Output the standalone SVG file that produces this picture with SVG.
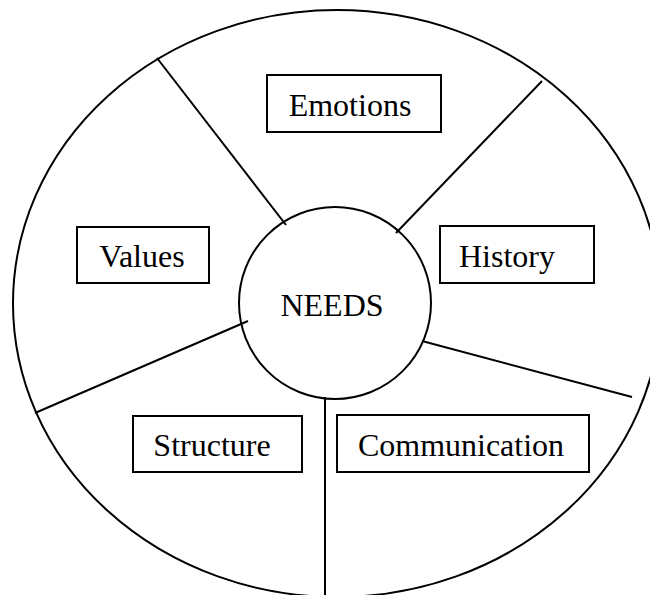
<svg xmlns="http://www.w3.org/2000/svg" width="650" height="595" viewBox="0 0 650 595">
<style>
.shape{fill:none;stroke:#000;stroke-width:2}
.box{fill:#fff;stroke:#000;stroke-width:2}
.con{stroke:#000;stroke-width:2;fill:none}
.lbl{font-family:"Liberation Serif","Times New Roman",serif;font-size:32px;fill:#000;text-anchor:middle}
</style>
<rect x="0" y="0" width="650" height="595" fill="#fff"/>
<g id="outer">
<ellipse class="shape" cx="337" cy="303.5" rx="324" ry="293.5"/>
</g>
<g id="connectors">
<line class="con" x1="157" y1="58" x2="286" y2="225"/>
<line class="con" x1="542" y1="81" x2="396" y2="233"/>
<line class="con" x1="35" y1="413" x2="248" y2="321"/>
<line class="con" x1="422" y1="341" x2="632" y2="397"/>
<line class="con" x1="325" y1="397" x2="325" y2="595"/>
</g>
<g id="needs">
<circle class="shape" cx="335" cy="303" r="96"/>
<text class="lbl" x="332" y="316">NEEDS</text>
</g>
<g id="emotions">
<rect class="box" x="267" y="75" width="174" height="57"/>
<text class="lbl" x="350" y="116">Emotions</text>
</g>
<g id="values">
<rect class="box" x="77" y="227" width="132" height="56"/>
<text class="lbl" x="142" y="267">Values</text>
</g>
<g id="history">
<rect class="box" x="440" y="226" width="154" height="57"/>
<text class="lbl" x="507" y="267">History</text>
</g>
<g id="structure">
<rect class="box" x="133" y="416" width="169" height="56"/>
<text class="lbl" x="212" y="456">Structure</text>
</g>
<g id="communication">
<rect class="box" x="337" y="415" width="252" height="57"/>
<text class="lbl" x="461" y="456">Communication</text>
</g>
</svg>
